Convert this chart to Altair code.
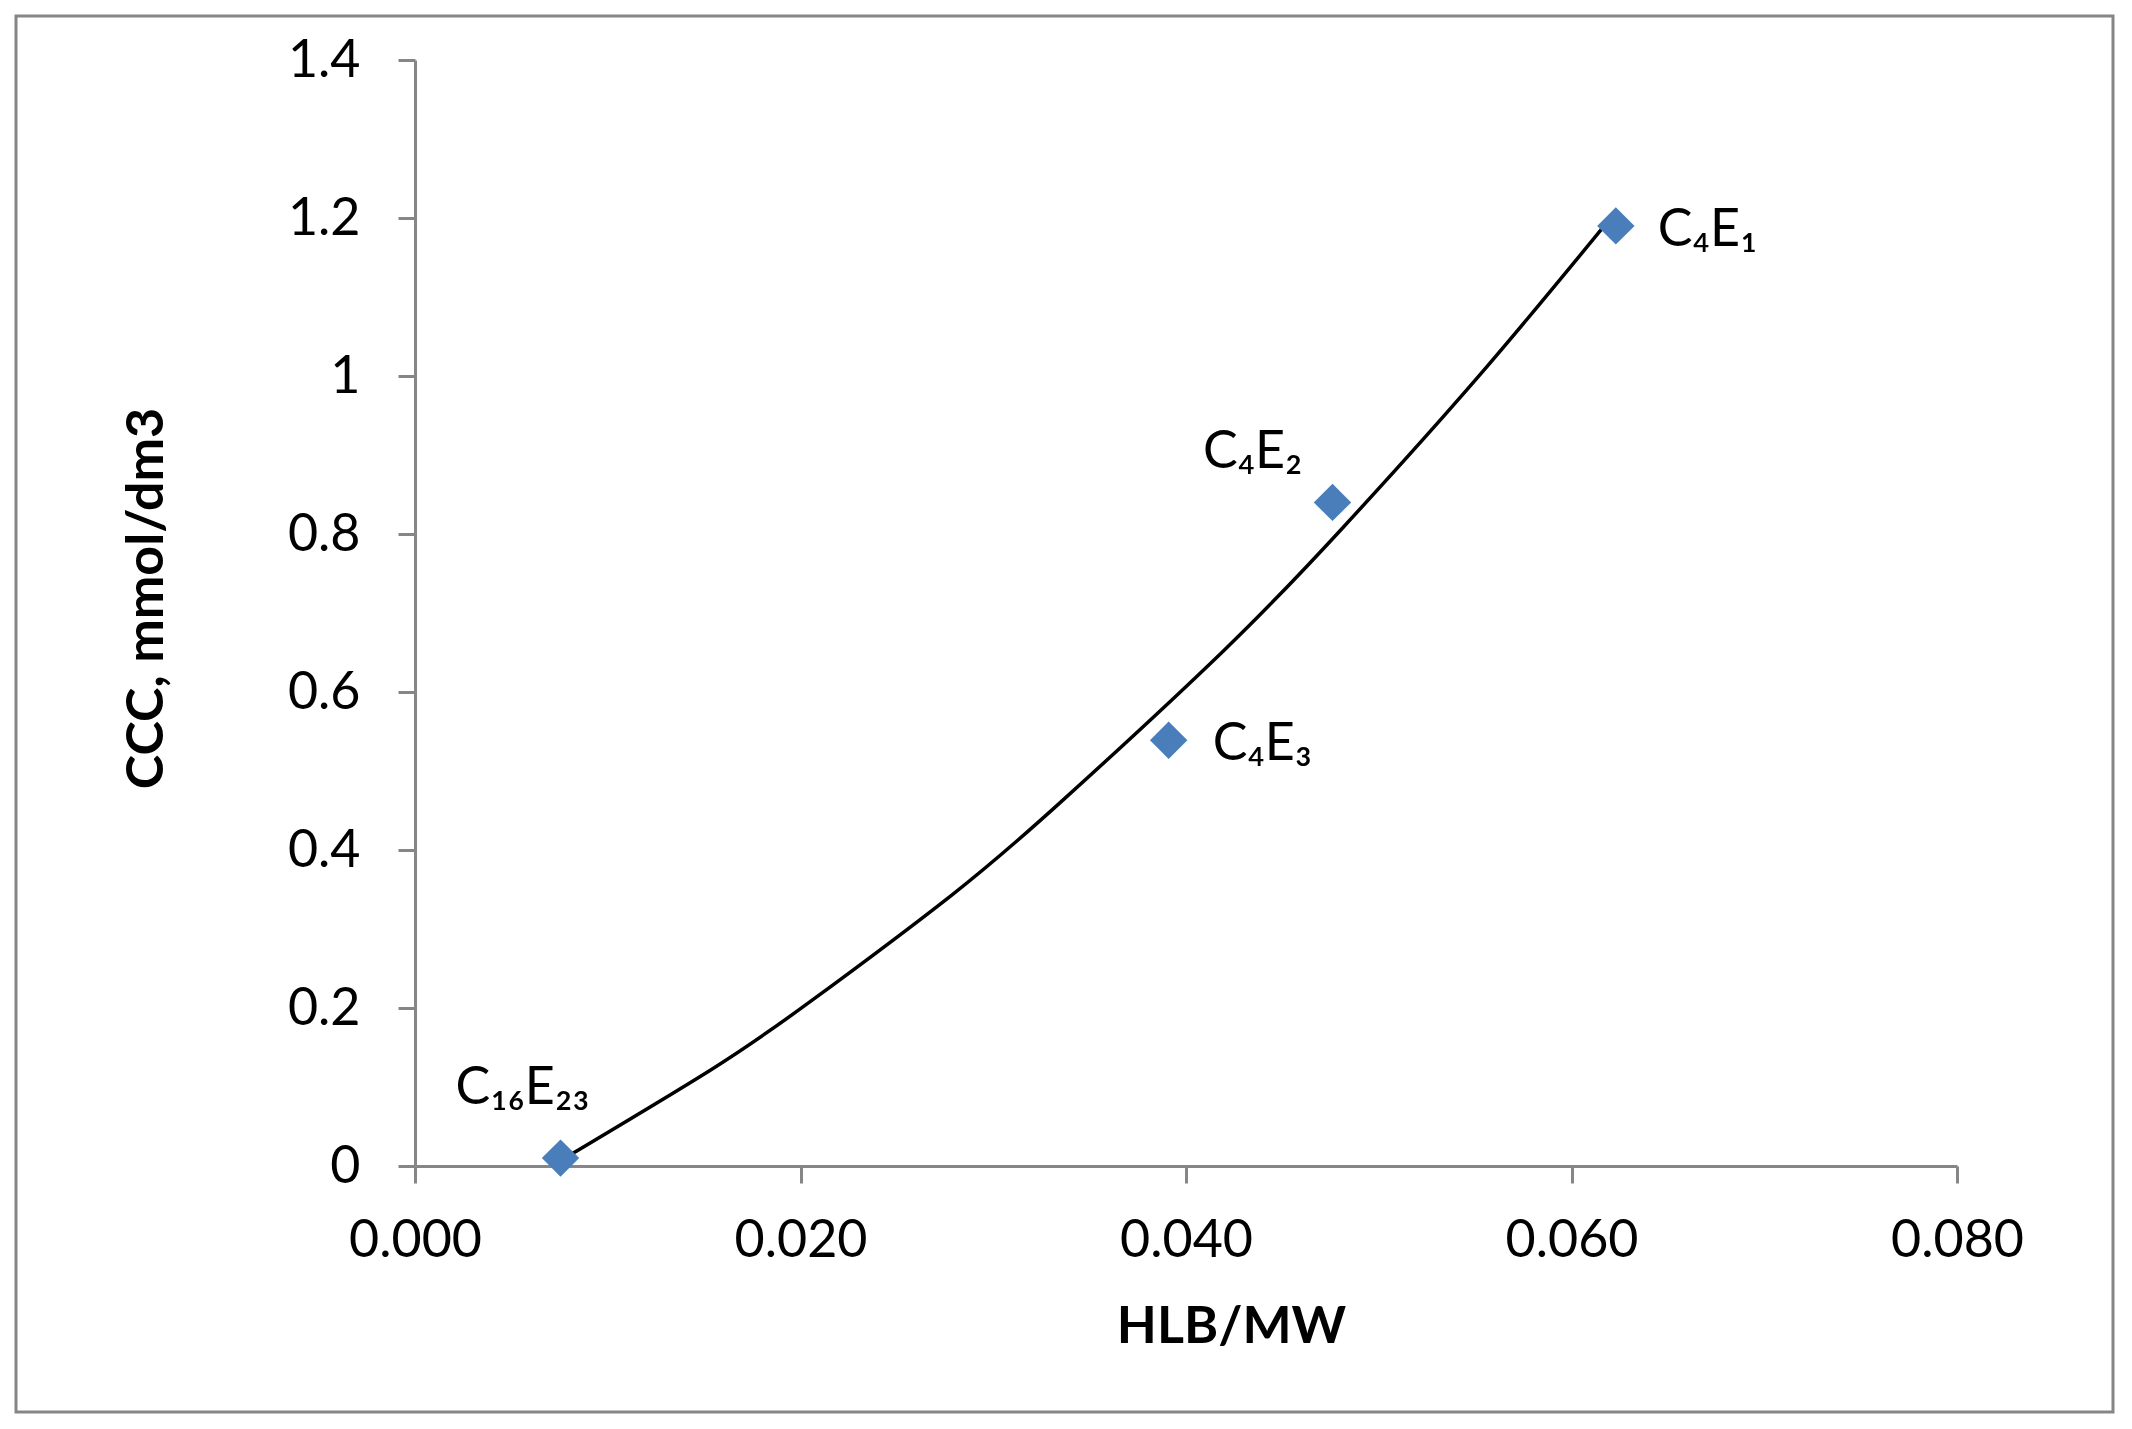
import altair as alt
import pandas as pd

# Data points (HLB/MW, CCC)
names = ["C₁₆E₂₃", "C₄E₃", "C₄E₂", "C₄E₁"]
hlb_mw = [0.00755, 0.0391, 0.0476, 0.0623]
ccc = [0.01, 0.539, 0.840, 1.190]

# Trend curve
curve_x = [0.0077, 0.0153, 0.0205, 0.0278, 0.0337, 0.0419, 0.0481, 0.0553, 0.0622]
curve_y = [0.009, 0.121, 0.208, 0.342, 0.465, 0.651, 0.807, 1.003, 1.205]

x_ticks = [0.0, 0.02, 0.04, 0.06, 0.08]
y_ticks = [0.0, 0.2, 0.4, 0.6, 0.8, 1.0, 1.2, 1.4]

pts = pd.DataFrame({"name": names, "x": hlb_mw, "y": ccc})
crv = pd.DataFrame({"x": curve_x, "y": curve_y})

W, H = 1542, 1106
FONT = "Lato, 'Noto Sans', 'DejaVu Sans'"
GRAY = "#868686"

xs = alt.Scale(domain=[0, 0.08], nice=False, zero=False)
ys = alt.Scale(domain=[0, 1.4], nice=False, zero=False)

x_axis = alt.Axis(values=x_ticks, format=".3f", grid=False, domainColor=GRAY,
                  domainWidth=3, tickColor=GRAY, tickWidth=3, tickSize=17,
                  labelPadding=32, labelFont=FONT, labelFontSize=52,
                  labelFlush=False,
                  labelColor="black", title="HLB/MW", titleFont=FONT,
                  titleFontSize=52, titleFontWeight="bold", titleColor="black",
                  titlePadding=35, titleX=816)
y_axis = alt.Axis(values=y_ticks, format="~g", grid=False, domainColor=GRAY,
                  domainWidth=3, tickColor=GRAY, tickWidth=3, tickSize=17,
                  labelPadding=38, labelFont=FONT, labelFontSize=52,
                  labelFlush=False,
                  labelColor="black", title="CCC, mmol/dm3", titleFont=FONT,
                  titleFontSize=52, titleFontWeight="bold", titleColor="black",
                  titlePadding=114, titleY=538)

border = alt.Chart(pd.DataFrame({"a": [0]})).mark_rect(
    fill=None, stroke=GRAY, strokeWidth=3, clip=False
).encode(
    x=alt.value(-399), x2=alt.value(1698), y=alt.value(-44), y2=alt.value(1352)
)

line = alt.Chart(crv).mark_line(color="black", strokeWidth=3.5, interpolate="natural").encode(
    x=alt.X("x:Q", scale=xs, axis=x_axis),
    y=alt.Y("y:Q", scale=ys, axis=y_axis),
)

points = alt.Chart(pts).mark_point(shape="diamond", filled=True, size=1400,
                                   color="#4a7ebb", opacity=1).encode(
    x=alt.X("x:Q", scale=xs),
    y=alt.Y("y:Q", scale=ys),
)

def label(nm, **kw):
    return alt.Chart(pts).transform_filter(alt.datum.name == nm).mark_text(
        font=FONT, fontSize=52, color="black", baseline="middle", **kw
    ).encode(x=alt.X("x:Q", scale=xs), y=alt.Y("y:Q", scale=ys), text="name:N")

labels = [
    label("C₄E₁", align="left", dx=42, dy=4),
    label("C₄E₃", align="left", dx=44, dy=4),
    label("C₄E₂", align="right", dx=-30, dy=-50),
    label("C₁₆E₂₃", align="center", dx=-38, dy=-70),
]

chart = alt.layer(border, line, points, *labels).properties(
    width=W, height=H, padding=6, background="white"
).configure_view(stroke=None)

chart.save("out.html", embed_options={"renderer": "svg", "actions": False})
